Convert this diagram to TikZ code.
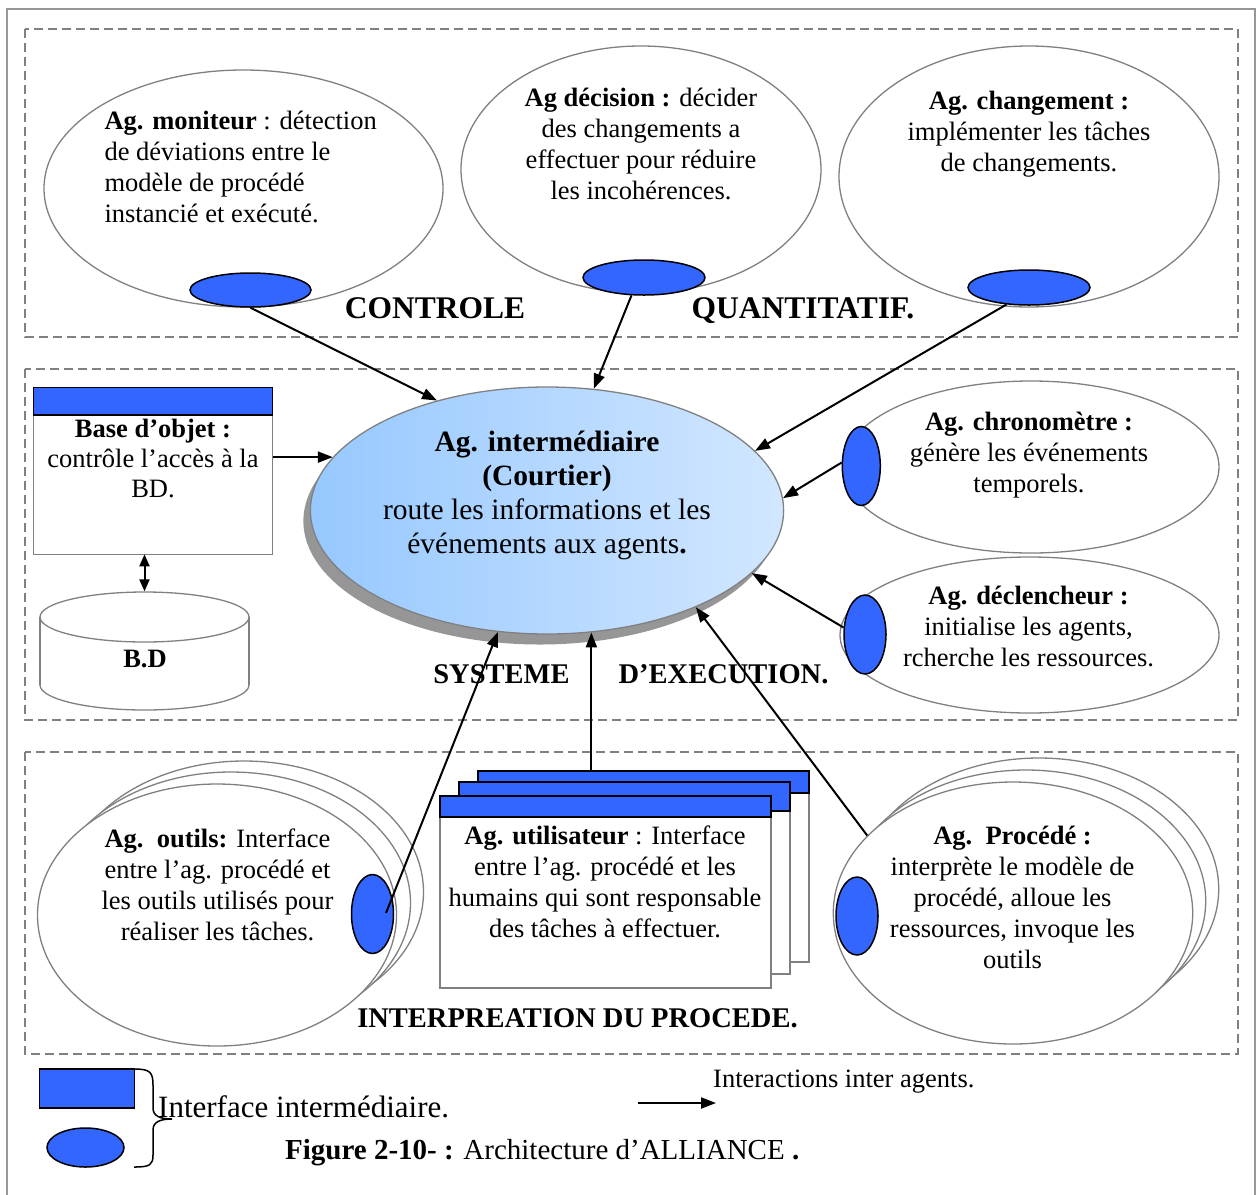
\documentclass[tikz,border=0pt]{standalone}
\usepackage{fontspec}
\setmainfont{Liberation Serif}[Ligatures={TeX,CommonOff}]
\usetikzlibrary{shapes.geometric,arrows.meta,calc}

\definecolor{agblue}{RGB}{51,102,255}
\definecolor{edgegray}{RGB}{128,128,128}
\definecolor{framegray}{RGB}{150,150,150}
\definecolor{shadowgray}{RGB}{150,150,150}
\definecolor{brokerleft}{RGB}{150,200,255}
\definecolor{brokerright}{RGB}{210,231,255}

\newcommand\agtext{\fontsize{26.5}{31}\selectfont}
\newcommand\brokertext{\fontsize{29.5}{34}\selectfont}
\newcommand\zonebig{\fontsize{31.5}{36}\selectfont\bfseries}
\newcommand\zonetext{\fontsize{28.5}{34}\selectfont\bfseries}

\begin{document}
\begin{tikzpicture}[x=1pt,y=-1pt,
  zone/.style={draw=edgegray,line width=1.3pt,dash pattern=on 9pt off 5pt},
  agent/.style={ellipse,draw=edgegray,line width=1.3pt,fill=white,inner sep=0pt},
  port/.style={ellipse,draw=black,line width=1.5pt,fill=agblue,inner sep=0pt},
  box/.style={rectangle,inner sep=0pt,outer sep=0pt},
  header/.style={box,draw=black,line width=1.5pt,fill=agblue},
  panel/.style={box,draw=edgegray,line width=1.3pt,fill=white},
  % multi-line texts are placed by the baseline of their last line
  txt/.style={inner sep=0pt,font=\agtext,align=center,anchor=base},
  link/.style={line width=2pt,-{Triangle[length=15pt,width=11pt]}},
  both/.style={line width=2pt,{Triangle[length=12pt,width=10pt]}-{Triangle[length=12pt,width=10pt]}},
]
\useasboundingbox (0,0) rectangle (1257,1194);
\fill[white] (0,0) rectangle (1257,1194);

% outer frame
\draw[framegray,line width=2pt] (7,1200) -- (7,9) -- (1255,9) -- (1255,1200);

% the three zones
\draw[zone] (25,29) rectangle (1238,337);
\draw[zone] (25,369) rectangle (1238,720);
\draw[zone] (25,752) rectangle (1238,1054);

% ---------- quantitative control ----------
\node[agent,minimum width=399pt,minimum height=237pt] (mon) at (243.5,188.5) {};
\node[agent,minimum width=360pt,minimum height=247pt] (dec) at (641,169.5) {};
\node[agent,minimum width=380pt,minimum height=261pt] (chg) at (1029,176.5) {};

\node[txt,align=left,anchor=base west] (montext) at (104.3,222)
  {\textbf{Ag. moniteur} : détection\\de déviations entre le\\modèle de procédé\\instancié et exécuté.};
\node[txt] (dectext) at (641,199)
  {\textbf{Ag décision :} décider\\des changements a\\effectuer pour réduire\\les incohérences.};
\node[txt] (chgtext) at (1029,171)
  {\textbf{Ag. changement :}\\implémenter les tâches\\de changements.};

\node[port,minimum width=121pt,minimum height=34pt] (monp) at (250.5,290) {};
\node[port,minimum width=122pt,minimum height=35pt] (decp) at (644,277.5) {};
\node[port,minimum width=122pt,minimum height=35pt] (chgp) at (1029,287.5) {};

\node[anchor=base,inner sep=0pt,font=\zonebig] (lblctrl) at (435,318) {CONTROLE};
\node[anchor=base,inner sep=0pt,font=\zonebig] (lblquant) at (803,318) {QUANTITATIF.};

% ---------- execution system ----------
\node[panel,minimum width=239.4pt,minimum height=139.3pt] (basebody) at (153,484.7) {};
\node[header,minimum width=239.4pt,minimum height=27.7pt] (basehead) at (153,401.2) {};
\node[txt] (basetext) at (153,497)
  {\textbf{Base d’objet :}\\[-1pt]contrôle l’accès à la\\[-1pt]BD.};

% database cylinder
\node[agent,minimum width=209pt,minimum height=50pt] (cylbottom) at (144.5,685) {};
\fill[white] (40,617) rectangle (249,685);
\draw[edgegray,line width=1.3pt] (40,617) -- (40,685) (249,617) -- (249,685);
\node[agent,minimum width=209pt,minimum height=50pt] (cyltop) at (144.5,617) {};
\node[anchor=base,inner sep=0pt,font=\agtext\bfseries] (cyltext) at (145,667) {B.D};

% broker
\node[ellipse,fill=shadowgray,inner sep=0pt,minimum width=473.2pt,minimum height=247pt] (brokershadow) at (540,521) {};
\node[ellipse,draw=edgegray,line width=1.3pt,left color=brokerleft,right color=brokerright,
      inner sep=0pt,minimum width=473.2pt,minimum height=247pt] (broker) at (547,510.5) {};
\node[txt,font=\brokertext] (brokertext) at (547,553)
  {\textbf{Ag. intermédiaire}\\\textbf{(Courtier)}\\route les informations et les\\événements aux agents\textbf{.}};

\node[agent,minimum width=376pt,minimum height=172pt] (chr) at (1031,467) {};
\node[agent,minimum width=379pt,minimum height=156pt] (dcl) at (1029.5,635) {};
\node[txt] (chrtext) at (1029,492)
  {\textbf{Ag. chronomètre :}\\génère les événements\\temporels.};
\node[txt] (dcltext) at (1028.5,666)
  {\textbf{Ag. déclencheur :}\\initialise les agents,\\rcherche les ressources.};
\node[port,minimum width=38pt,minimum height=79pt] (chrp) at (861.3,466) {};
\node[port,minimum width=42pt,minimum height=79pt] (dclp) at (865,634.5) {};

\node[anchor=base,inner sep=0pt,font=\zonetext] (lblsys) at (501.5,683) {SYSTEME};
\node[anchor=base,inner sep=0pt,font=\zonetext] (lblexec) at (723.5,683) {D’EXECUTION.};

% ---------- process interpretation ----------
\node[agent,minimum width=359pt,minimum height=262pt] (outils3) at (244,892) {};
\node[agent,minimum width=359pt,minimum height=262pt] (outils2) at (231,903) {};
\node[agent,minimum width=359pt,minimum height=262pt] (outils) at (217,915) {};
\node[txt] (outilstext) at (217.5,940)
  {\textbf{Ag.\ \ outils:} Interface\\entre l’ag. procédé et\\les outils utilisés pour\\réaliser les tâches.};
\node[port,minimum width=42pt,minimum height=79pt] (outp) at (372.5,914) {};
\coordinate (outsrc) at (386,913);

\node[panel,minimum width=331pt,minimum height=191pt] (userback) at (643.5,866.5) {};
\node[header,minimum width=331pt,minimum height=22pt] (userbackhead) at (643.5,782) {};
\node[panel,minimum width=331pt,minimum height=192pt] (usermid) at (624.5,878) {};
\node[header,minimum width=331pt,minimum height=29pt] (usermidhead) at (624.5,796.5) {};
\node[panel,minimum width=331pt,minimum height=171pt] (user) at (605.5,902.5) {};
\node[header,minimum width=331pt,minimum height=21pt] (userhead) at (605.5,806.5) {};
\node[txt] (usertext) at (605,937)
  {\textbf{Ag. utilisateur} : Interface\\entre l’ag. procédé et les\\humains qui sont responsable\\des tâches à effectuer.};

\node[agent,minimum width=359.4pt,minimum height=262pt] (proc3) at (1039,889) {};
\node[agent,minimum width=359.4pt,minimum height=262pt] (proc2) at (1026,901) {};
\node[agent,minimum width=359.4pt,minimum height=262pt] (proc) at (1013,913) {};
\node[txt] (proctext) at (1012.5,968)
  {\textbf{Ag.\ \ Procédé :}\\interprète le modèle de\\procédé, alloue les\\ressources, invoque les\\outils};
\node[port,minimum width=42pt,minimum height=78pt] (procp) at (857,916) {};

\node[anchor=base,inner sep=0pt,font=\zonetext] (lblinterp) at (577.5,1027) {INTERPREATION DU PROCEDE.};

% ---------- interactions ----------
\draw[link] (monp.south) -- (broker.135.1);
\draw[link] (decp.-125) -- (broker.69.3);
\draw[link] (chgp.-143) -- (broker.16.6);
\draw[link] (chrp.170) -- (broker.3.4);
\draw[link] (dclp.162) -- (broker.-17.1);
\draw[link] (proc.152) -- (broker.-33.3);
\draw[link] (userbackhead.north -| broker.-70.3) -- (broker.-70.3);
\draw[link] (outsrc) -- (broker.-112.2);
\draw[link] (basebody.east |- broker.166.5) -- (broker.166.5);
\draw[both] (basebody.south -| cyltop.north) -- (cyltop.north);

% ---------- legend and caption ----------
\node[header,minimum width=95pt,minimum height=39pt] (legrect) at (87,1088.5) {};
\node[port,minimum width=77pt,minimum height=39pt] (legport) at (85.5,1147.5) {};
\draw[line width=1.5pt] (134,1069) .. controls (150,1069) and (153,1072) .. (153,1085)
  -- (153,1108) .. controls (153,1116) and (160,1119) .. (172,1119)
  .. controls (160,1119) and (153,1122) .. (153,1130)
  -- (153,1155) .. controls (153,1165) and (150,1167) .. (134,1167);
\node[anchor=base west,inner sep=0pt,font=\fontsize{31}{36}\selectfont] (legtext) at (158,1117) {Interface intermédiaire.};

\coordinate (legA) at (638,1103);
\coordinate (legB) at (716,1103);
\draw[link] (legA) -- (legB);
\node[anchor=base west,inner sep=0pt,font=\agtext] (linktext) at (713,1087) {Interactions inter agents.};

\node[anchor=base west,inner sep=0pt,font=\fontsize{29}{34}\selectfont] (caption) at (285,1159)
  {\textbf{Figure 2-10- :} Architecture d’ALLIANCE \textbf{.}};
\end{tikzpicture}
\end{document}
